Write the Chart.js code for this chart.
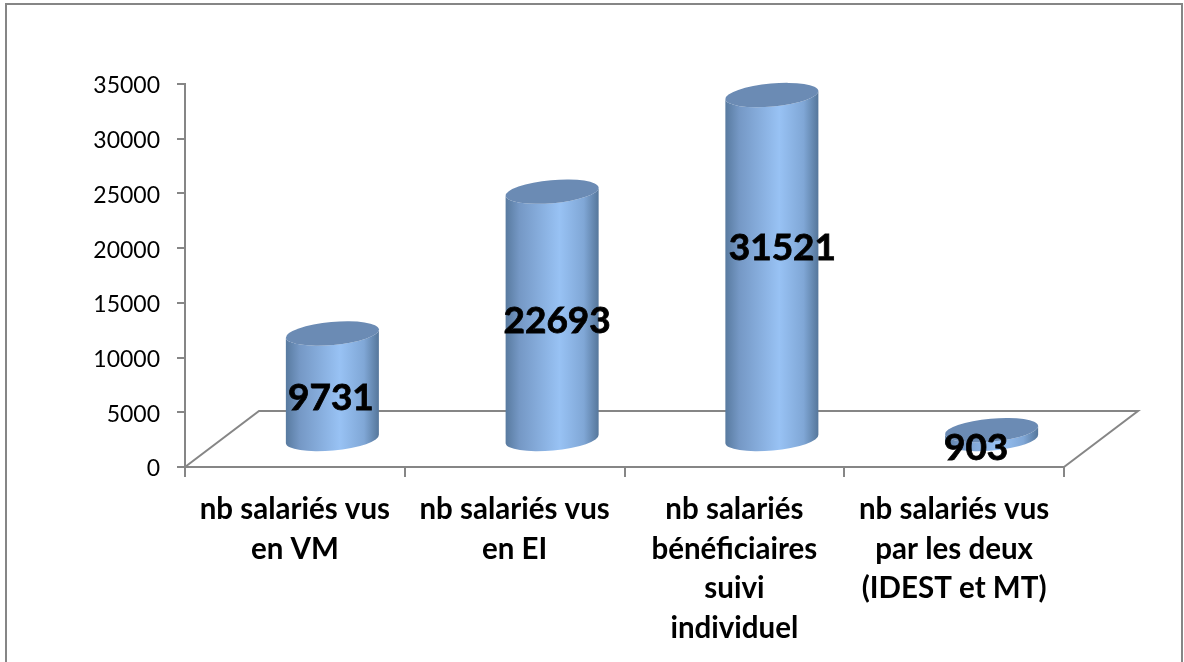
<!DOCTYPE html>
<html lang="fr">
<head>
<meta charset="utf-8">
<title>Salariés vus</title>
<script src="https://cdn.jsdelivr.net/npm/chart.js@4/dist/chart.umd.min.js"></script>
<style>
  html, body { margin: 0; padding: 0; background: #fff; overflow: hidden; }
  canvas { display: block; }
</style>
</head>
<body>
<canvas id="chart-salaries" width="1184" height="662"></canvas>
<script>
const categories = [
  ['nb salariés vus', 'en VM'],
  ['nb salariés vus', 'en EI'],
  ['nb salariés', 'bénéficiaires', 'suivi', 'individuel'],
  ['nb salariés vus', 'par les deux', '(IDEST et MT)'],
]
const values = [9731, 22693, 31521, 903]
const yTicks = [0, 5000, 10000, 15000, 20000, 25000, 30000, 35000]

const AXIS = '#868686'
const FONT = 'Lato, Carlito, "Open Sans", sans-serif'
// floor depth of the fake 3d box
const DEPTH_X = 74
const DEPTH_Y = 56
// where each value label sits, relative to the middle of its cylinder
const labelShift = [[-1, 13], [5.5, 7], [11, -18], [-15, 15]]

const scene = {
  id: 'scene',
  beforeDraw(chart) {
    const c = chart.ctx
    c.save()
    c.fillStyle = '#fff'
    c.fillRect(0, 0, chart.width, chart.height)
    c.strokeStyle = AXIS
    c.lineWidth = 2
    c.strokeRect(6, 4, 1176, 680)
    c.restore()
  },
  beforeDatasetsDraw(chart) {
    const { left, right, bottom } = chart.chartArea
    const c = chart.ctx
    c.save()
    c.strokeStyle = AXIS
    c.lineWidth = 2
    c.beginPath()
    c.moveTo(left, bottom)
    c.lineTo(left + DEPTH_X, bottom - DEPTH_Y)
    c.lineTo(right + DEPTH_X, bottom - DEPTH_Y)
    c.lineTo(right, bottom)
    c.stroke()
    c.restore()
  },
  afterDatasetsDraw(chart) {
    const c = chart.ctx
    const bars = chart.getDatasetMeta(0).data
    bars.forEach(bar => drawCylinder(c, bar))
    c.save()
    c.fillStyle = '#000'
    c.strokeStyle = '#000'
    c.lineWidth = 0.8
    c.font = `bold 37px ${FONT}`
    c.textAlign = 'center'
    c.textBaseline = 'middle'
    bars.forEach((bar, i) => {
      const mid = (bar.y + bar.base) / 2 - DEPTH_Y / 2
      const x = bar.x + DEPTH_X / 2 + labelShift[i][0]
      const y = mid + labelShift[i][1]
      c.fillText(values[i], x, y)
      c.strokeText(values[i], x, y) // the reference digits are heavier than Lato bold
    })
    c.restore()
  },
}

function drawCylinder(c, bar) {
  const rx = bar.width / 2
  const ry = 11.5
  const tilt = -0.09
  const cx = bar.x + DEPTH_X / 2 + 0.5
  const topY = bar.y - DEPTH_Y / 2 + 1
  const baseY = bar.base - DEPTH_Y / 2 + 1

  const grad = c.createLinearGradient(cx - rx, 0, cx + rx, 0)
  grad.addColorStop(0, '#587a9f')
  grad.addColorStop(0.15, '#7598c5')
  grad.addColorStop(0.58, '#98c2f4')
  grad.addColorStop(0.84, '#80a7d6')
  grad.addColorStop(1, '#55769a')

  c.save()
  c.fillStyle = grad
  c.beginPath()
  c.ellipse(cx, baseY, rx, ry, tilt, 0, Math.PI)
  c.ellipse(cx, topY, rx, ry, tilt, Math.PI, 0, true)
  c.closePath()
  c.fill()
  c.fillStyle = '#6b8bb4'
  c.beginPath()
  c.ellipse(cx, topY, rx, ry, tilt, 0, Math.PI * 2)
  c.fill()
  c.restore()
}

new Chart(document.getElementById('chart-salaries'), {
  type: 'bar',
  data: {
    labels: categories,
    datasets: [{
      data: values,
      backgroundColor: 'transparent',
      barPercentage: 0.425,
      categoryPercentage: 1,
    }],
  },
  plugins: [scene],
  options: {
    responsive: false,
    animation: false,
    layout: { padding: { top: 84, right: 120, left: 0, bottom: 0 } },
    plugins: { legend: { display: false }, tooltip: { enabled: false } },
    scales: {
      x: {
        grid: { drawOnChartArea: false, color: AXIS, lineWidth: 2, tickLength: 10 },
        border: { color: AXIS, width: 2 },
        ticks: {
          color: '#000',
          font: { family: FONT, size: 29.5, weight: 'bold', lineHeight: 1.34 },
          padding: 13,
          maxRotation: 0,
          autoSkip: false,
        },
        afterFit: s => { s.height = 195 },
      },
      y: {
        min: 0,
        max: 35000,
        afterBuildTicks: s => { s.ticks = yTicks.map(value => ({ value })) },
        grid: { drawOnChartArea: false, color: AXIS, lineWidth: 2, tickLength: 8 },
        border: { color: AXIS, width: 2 },
        ticks: {
          color: '#000',
          font: { family: FONT, size: 23 },
          padding: 17,
          labelOffset: 2,
          callback: v => String(v),
        },
        afterFit: s => { s.width = 185 },
      },
    },
  },
})
</script>
</body>
</html>
